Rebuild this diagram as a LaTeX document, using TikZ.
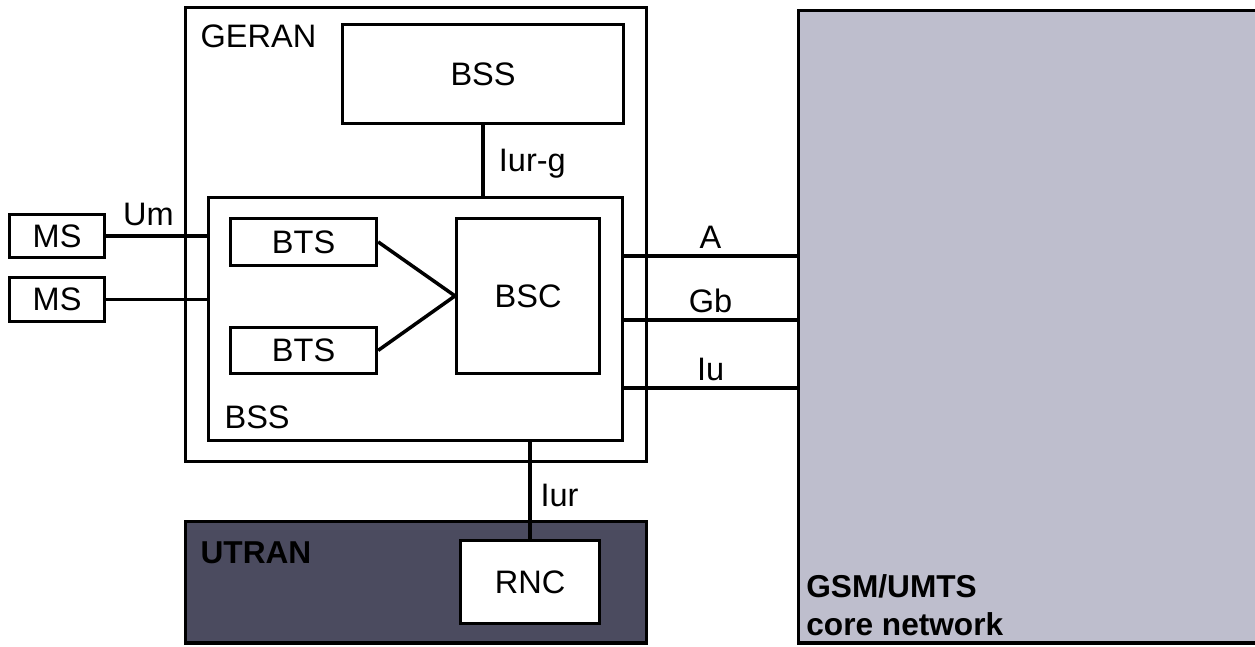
\documentclass[tikz,border=0pt]{standalone}
\usepackage{fontspec}
\setmainfont{Liberation Sans}
\definecolor{CoreGrey}{HTML}{BEBECD}
\definecolor{UtranSlate}{HTML}{4B4B5F}

\begin{document}
\begin{tikzpicture}[
  box/.style={draw, line width=1.8pt, anchor=south west, inner sep=0pt,
              font=\fontsize{18.5}{22}\selectfont},
  lbl/.style={font=\fontsize{18.5}{22}\selectfont, inner sep=3pt},
  link/.style={line width=2pt}
]
  \useasboundingbox (0,0) rectangle (25.1,12.92);

  % core network
  \node[box, fill=CoreGrey, minimum width=9.5cm, minimum height=12.65cm] (core) at (15.94,0.03) {};
  \node[lbl, font=\fontsize{18}{21.5}\selectfont\bfseries, anchor=south west,
        align=left, inner sep=0pt] (corelbl) at (16.12,0.2) {GSM/UMTS\\core network};

  % UTRAN
  \node[box, fill=UtranSlate, minimum width=9.22cm, minimum height=2.43cm] (utran) at (3.68,0.03) {};
  \node[lbl, font=\fontsize{18}{21.5}\selectfont\bfseries, anchor=west] (utranlbl) at (3.9,1.86) {UTRAN};
  \node[box, fill=white, minimum width=2.78cm, minimum height=1.66cm] (rnc) at (9.18,0.42) {RNC};

  % GERAN
  \node[box, fill=white, minimum width=9.22cm, minimum height=9.08cm] (geran) at (3.68,3.66) {};
  \node[lbl, anchor=west] (geranlbl) at (3.9,12.2) {GERAN};
  \node[box, minimum width=5.62cm, minimum height=1.98cm] (bssup) at (6.82,10.42) {BSS};
  \node[box, minimum width=8.28cm, minimum height=4.86cm] (bss) at (4.14,4.08) {};
  \node[lbl, anchor=west] (bsslbl) at (4.38,4.58) {BSS};
  \node[box, minimum width=2.92cm, minimum height=0.94cm] (bts1) at (4.58,7.58) {BTS};
  \node[box, minimum width=2.92cm, minimum height=0.92cm] (bts2) at (4.58,5.42) {BTS};
  \node[box, minimum width=2.86cm, minimum height=3.1cm] (bsc) at (9.1,5.42) {BSC};

  % mobile stations
  \node[box, minimum width=1.9cm, minimum height=0.86cm] (ms1) at (0.16,7.74) {MS};
  \node[box, minimum width=1.9cm, minimum height=0.88cm] (ms2) at (0.16,6.46) {MS};

  % interfaces
  \draw[link] (ms1.east) -- (ms1.east -| bss.west) node[lbl, pos=0.42, above, yshift=2pt] {Um};
  \draw[link] (ms2.east) -- (ms2.east -| bss.west);
  \draw[link] (bts1.east) -- (bsc.west) -- (bts2.east);
  \draw[link] (bssup.south) -- (bssup.south |- bss.north)
    node[lbl, pos=0.55, right, xshift=5pt] {Iur-g};
  \draw[link] (rnc.north) -- (rnc.north |- bss.south)
    node[lbl, pos=0.45, right, xshift=2pt] {Iur};
  \foreach \yy/\ifc in {7.8/A, 6.52/Gb, 5.16/Iu}
    \draw[link] (bss.east |- 0,\yy) -- (core.west |- 0,\yy) node[lbl, midway, above] {\ifc};
\end{tikzpicture}
\end{document}
